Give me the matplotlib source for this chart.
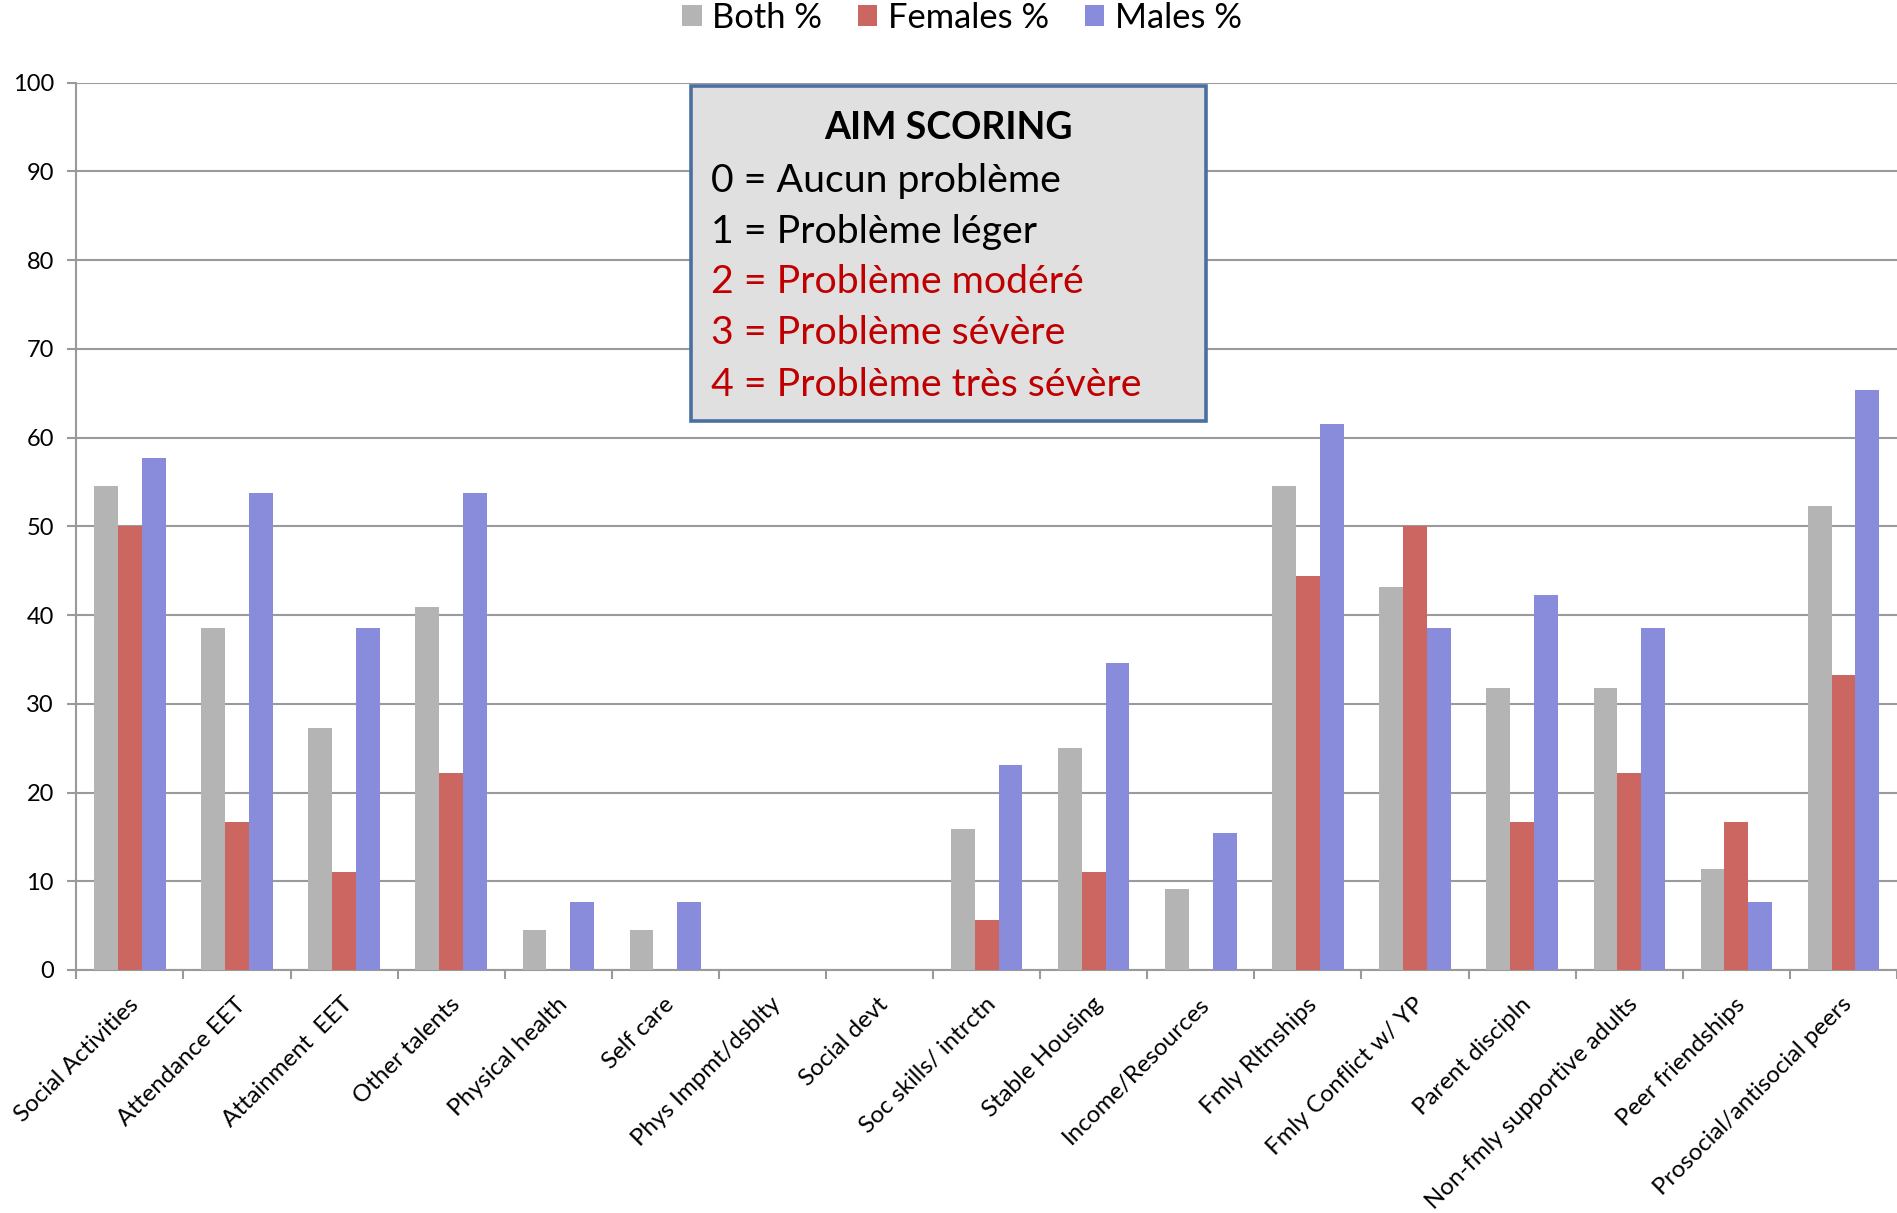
import matplotlib
matplotlib.use("Agg")
import matplotlib.pyplot as plt
import matplotlib.transforms as mtransforms
from matplotlib.patches import Rectangle, Patch
import numpy as np

plt.rcParams["font.family"] = ["Lato", "DejaVu Sans"]

# Data
categories = [
    "Social Activities", "Attendance EET", "Attainment  EET", "Other talents",
    "Physical health", "Self care", "Phys Impmt/dsblty", "Social devt",
    "Soc skills/ intrctn", "Stable Housing", "Income/Resources",
    "Fmly Rltnships", "Fmly Conflict w/ YP", "Parent discipln",
    "Non-fmly supportive adults", "Peer friendships", "Prosocial/antisocial peers",
]
both_pct = [54.5, 38.6, 27.3, 40.9, 4.5, 4.5, 0, 0, 15.9, 25.0, 9.1,
            54.5, 43.2, 31.8, 31.8, 11.4, 52.3]
females_pct = [50.0, 16.7, 11.1, 22.2, 0, 0, 0, 0, 5.6, 11.1, 0,
               44.4, 50.0, 16.7, 22.2, 16.7, 33.3]
males_pct = [57.7, 53.8, 38.5, 53.8, 7.7, 7.7, 0, 0, 23.1, 34.6, 15.4,
             61.5, 38.5, 42.3, 38.5, 7.7, 65.4]
series_names = ["Both %", "Females %", "Males %"]
y_ticks = [0, 10, 20, 30, 40, 50, 60, 70, 80, 90, 100]

scoring_title = "AIM SCORING"
scoring_lines = [
    "0 = Aucun problème",
    "1 = Problème léger",
    "2 = Problème modéré",
    "3 = Problème sévère",
    "4 = Problème très sévère",
]

# Styling
colors = ["#B4B4B4", "#CC6660", "#898CDA"]
grid_color = "#9A9A9A"
W, H, DPI = 1897, 1213, 100

fig = plt.figure(figsize=(W / DPI, H / DPI), dpi=DPI)
ax = fig.add_axes([76.3 / W, 1 - 970 / H, 1 - 76.3 / W, (970 - 82.7) / H])

x = np.arange(len(categories))
bw = 0.222
for k, (vals, c, name) in enumerate(zip([both_pct, females_pct, males_pct], colors, series_names)):
    ax.bar(x + (k - 1) * bw, vals, width=bw, color=c, label=name, zorder=3,
           linewidth=0)

ax.set_xlim(-0.5, len(categories) - 0.5)
ax.set_ylim(0, 100)
ax.set_yticks(y_ticks)
ax.set_yticklabels([str(v) for v in y_ticks], fontsize=17)
ax.yaxis.grid(True, color=grid_color, linewidth=1.5, zorder=0)
ax.set_axisbelow(True)

for s in ["top", "right"]:
    ax.spines[s].set_visible(False)
for s in ["left", "bottom"]:
    ax.spines[s].set_color(grid_color)
    ax.spines[s].set_linewidth(1.5)

ax.tick_params(axis="y", length=6.2, width=1.5, color=grid_color, pad=10)

# Category boundaries as minor ticks, labels at category centres
ax.set_xticks(np.arange(-0.5, len(categories) - 0.5 + 0.01, 1.0), minor=True)
ax.set_xticks(x)
ax.set_xticklabels(categories, rotation=45, ha="right", va="top",
                   rotation_mode="anchor", fontsize=17.3)
ax.tick_params(axis="x", which="major", length=0, pad=17)
ax.tick_params(axis="x", which="minor", length=6.2, width=1.5, color=grid_color)
shift = mtransforms.ScaledTranslation(-2 / DPI, 0, fig.dpi_scale_trans)
for lab in ax.get_xticklabels():
    lab.set_transform(lab.get_transform() + shift)

# Legend
handles = [Patch(facecolor=c, edgecolor="none") for c in colors]
fig.legend(handles, series_names, loc="center", bbox_to_anchor=(962 / W, 1 - 18 / H),
           ncol=3, frameon=False, fontsize=24.8, handlelength=0.56, handleheight=0.56,
           handletextpad=0.3, columnspacing=1.05, borderaxespad=0)

# Scoring box
bx0, bx1, by0, by1 = 690.8, 1206.2, 85.9, 421.0
fig.patches.append(Rectangle((bx0 / W, 1 - by1 / H), (bx1 - bx0) / W, (by1 - by0) / H,
                             transform=fig.transFigure, facecolor="#E0E0E0",
                             edgecolor="#4A70A0", linewidth=2.6, zorder=5))
fig.text((bx0 + bx1) / 2 / W, 1 - 139.4 / H, scoring_title, ha="center", va="baseline",
         fontsize=27, fontweight="bold", color="black", zorder=6)
baselines = [192.3, 243.1, 292.8, 343.5, 396.5]
line_colors = ["black", "black", "#C00000", "#C00000", "#C00000"]
for txt, yb, c in zip(scoring_lines, baselines, line_colors):
    fig.text(711 / W, 1 - yb / H, txt, ha="left", va="baseline", fontsize=28.3,
             color=c, zorder=6)

fig.savefig("out.png", dpi=DPI)
